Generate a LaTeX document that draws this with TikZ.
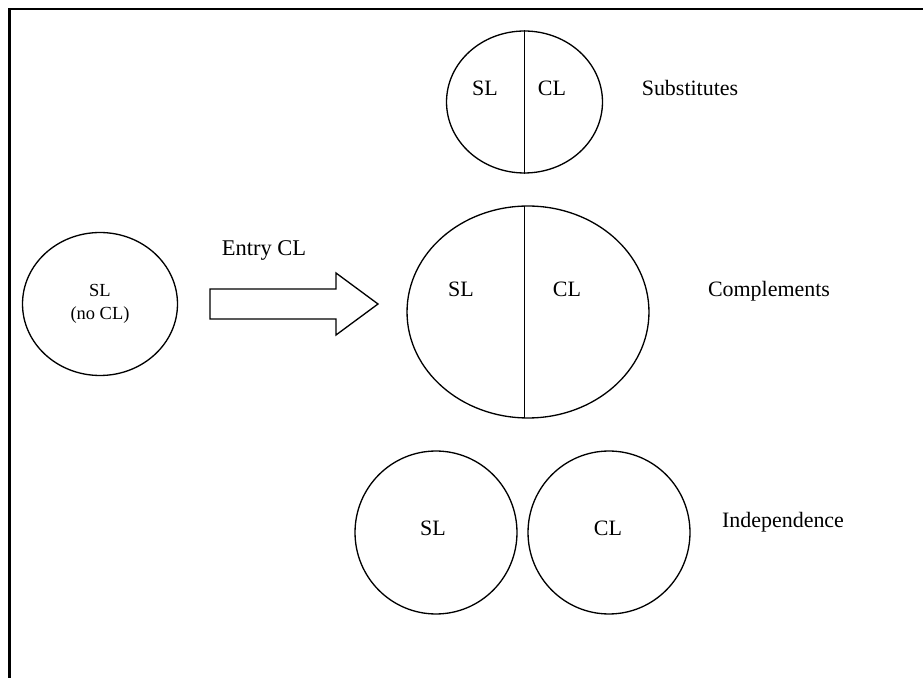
\documentclass[tikz,border=0pt]{standalone}
\usepackage{fontspec}
\setmainfont{Liberation Serif}
\usepackage{tikz}
\usetikzlibrary{shapes.geometric}
\tikzstyle{bubble} = [draw, ellipse, line width=0.75pt, inner sep=0pt]
\tikzstyle{lbl} = [inner sep=0pt, text depth=0pt, font=\fontsize{12.5}{15}\selectfont]
\tikzstyle{frame} = [line width=1.4pt]
\tikzstyle{blockarrow} = [line width=0.75pt, line join=miter]

\begin{document}
\begin{tikzpicture}[x=0.02cm, y=-0.02cm]
		\useasboundingbox (0,0) rectangle (923,678);
		\draw [frame] (923,9) -| (9.5,678);

		\node (noCL) [bubble, minimum width=3.1cm, minimum height=2.86cm, align=center,
			font=\fontsize{10.5}{13.5}\selectfont] at (100,304) {SL\\(no CL)};

		\node (entry) [lbl, font=\fontsize{12.8}{15}\selectfont] at (264,248) {Entry CL};
		\draw [blockarrow] (210,289) -- (336,289) -- (336,273) -- (378,304)
			-- (336,335) -- (336,319) -- (210,319) -- cycle;

		\node (sub) [bubble, minimum width=3.12cm, minimum height=2.84cm] at (524.5,102) {};
		\draw [line width=0.75pt] (sub.north) -- (sub.south);
		\node (subSL) [lbl] at (485,88) {SL};
		\node (subCL) [lbl] at (552,88) {CL};
		\node (subtxt) [lbl] at (690,88) {Substitutes};

		\node (comp) [bubble, minimum width=4.84cm, minimum height=4.24cm] at (528,312) {};
		\draw [line width=0.75pt] (524.5,205.7) -- (524.5,418.3);
		\node (compSL) [lbl] at (461,289) {SL};
		\node (compCL) [lbl] at (567,289) {CL};
		\node (comptxt) [lbl] at (769,289) {Complements};

		\node (indSL) [bubble, minimum width=3.24cm, minimum height=3.26cm] at (436,532.5) {};
		\node (indCL) [bubble, minimum width=3.24cm, minimum height=3.26cm] at (609,532.5) {};
		\node (indSLtxt) [lbl] at (433,528) {SL};
		\node (indCLtxt) [lbl] at (608,528) {CL};
		\node (indtxt) [lbl] at (783,520) {Independence};
	\end{tikzpicture}
\end{document}
